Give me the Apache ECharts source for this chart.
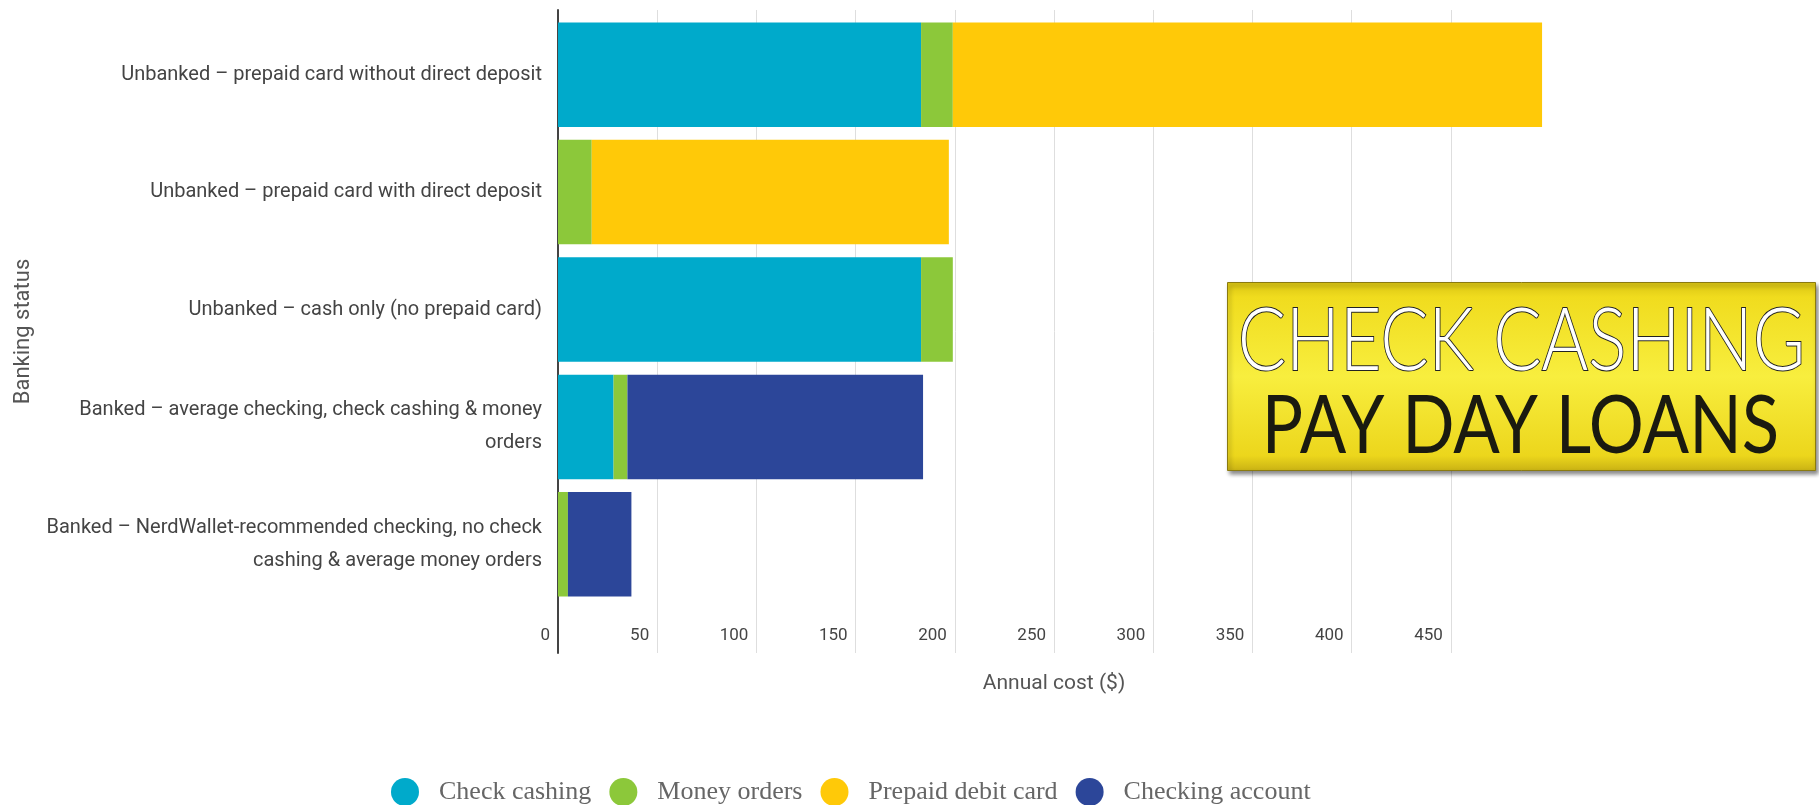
<!DOCTYPE html>
<html><head><meta charset="utf-8">
<script src="https://cdn.jsdelivr.net/npm/echarts@6/dist/echarts.min.js"></script>
<style>html,body{margin:0;padding:0;background:#fff}#c{width:1819px;height:805px}</style>
</head><body><div id="c"></div>
<script>
// ---- data ----
const categories = [
  'Unbanked – prepaid card without direct deposit',
  'Unbanked – prepaid card with direct deposit',
  'Unbanked – cash only (no prepaid card)',
  'Banked – average checking, check cashing & money\norders',
  'Banked – NerdWallet-recommended checking, no check\ncashing & average money orders'
];
const seriesNames = ['Check cashing', 'Money orders', 'Prepaid debit card', 'Checking account'];
const checkCashing    = [183, 0, 183, 28, 0];
const moneyOrders     = [16, 17, 16, 7, 5];
const prepaidCard     = [297, 180, 0, 0, 0];
const checkingAccount = [0, 0, 0, 149, 32];
const xMin = 0, xMax = 500, xStep = 50;
const axisTitleX = 'Annual cost ($)';
const axisTitleY = 'Banking status';
const bannerLine1 = 'CHECK CASHING';
const bannerLine2 = 'PAY DAY LOANS';

const colors = ['#00AACB', '#8CC83A', '#FFC908', '#2C4699'];
const values = [checkCashing, moneyOrders, prepaidCard, checkingAccount];

const chart = echarts.init(document.getElementById('c'), null, {renderer: 'canvas'});
const gridColors = [];
for (let v = xMin; v <= xMax; v += xStep) gridColors.push(v === xMax ? 'rgba(0,0,0,0)' : '#dedede');

const option = {
  animation: false,
  color: colors,
  grid: [
    {left: 558, right: 269, top: 16, bottom: 202},
    {left: 558, right: 269, top: 10, bottom: 152}
  ],
  xAxis: [
    {gridIndex: 0, type: 'value', min: xMin, max: xMax, interval: xStep, show: false},
    {gridIndex: 1, type: 'value', min: xMin, max: xMax, interval: xStep,
     axisLine: {show: false}, axisTick: {show: false},
     splitLine: {show: true, showMaxLine: false, lineStyle: {color: gridColors, width: 1}},
     axisLabel: {inside: true, align: 'right', padding: [0, 8, 0, 0], margin: 9, showMaxLabel: false,
                 fontFamily: 'Roboto', fontSize: 17, color: '#444'},
     name: axisTitleX, nameLocation: 'middle', nameGap: 20,
     nameTextStyle: {fontFamily: 'Roboto', fontSize: 21, color: '#555'}}
  ],
  yAxis: [
    {gridIndex: 0, type: 'category', data: categories, inverse: true,
     axisLine: {show: false}, axisTick: {show: false}, splitLine: {show: false},
     axisLabel: {margin: 16, fontFamily: 'Roboto', fontSize: 20, color: '#444', lineHeight: 33,
                 align: 'right', padding: [8, 0, 0, 0]}},
    {gridIndex: 1, type: 'value', min: 0, max: 1,
     axisLine: {show: true, lineStyle: {color: '#444', width: 2}},
     axisTick: {show: false}, axisLabel: {show: false}, splitLine: {show: false},
     name: axisTitleY, nameLocation: 'middle', nameRotate: 90, nameGap: 524,
     nameTextStyle: {fontFamily: 'Roboto', fontSize: 22, color: '#555'}}
  ],
  legend: {
    data: seriesNames, left: 386, top: 773, itemWidth: 28, itemHeight: 32, itemGap: 18,
    icon: 'path://M50,0A50,50 0 1 1 50,100A50,50 0 1 1 50,0Z',
    textStyle: {fontFamily: 'Liberation Serif', fontSize: 26, color: '#666', padding: [0, 0, 0, 15]}
  },
  series: seriesNames.map((n, i) => ({
    name: n, type: 'bar', stack: 'total', xAxisIndex: 0, yAxisIndex: 0,
    barCategoryGap: '11%', data: values[i], itemStyle: {color: colors[i]}
  })),
  graphic: [{
    type: 'group', left: 1227, top: 282, z: 100, children: [
      {type: 'rect', z: 100, shape: {x: 0, y: 0, width: 588, height: 188},
       style: {fill: new echarts.graphic.LinearGradient(0, 0, 0, 1, [
         {offset: 0, color: '#d9c414'}, {offset: 0.08, color: '#f0dc1e'},
         {offset: 0.5, color: '#f8ee3e'}, {offset: 0.92, color: '#ecd61c'}, {offset: 1, color: '#c9b214'}]),
         stroke: '#8a7a10', lineWidth: 1, shadowColor: 'rgba(0,0,0,0.45)', shadowBlur: 4, shadowOffsetX: 2, shadowOffsetY: 3}},
      {type: 'text', z: 101, x: 294, y: 60, scaleX: 0.83,
       style: {text: bannerLine1, font: '300 86px Lato', fill: '#ffffff', stroke: '#222', lineWidth: 2,
               textAlign: 'center', textVerticalAlign: 'middle'}},
      {type: 'text', z: 101, x: 293, y: 144, scaleX: 0.84,
       style: {text: bannerLine2, font: '400 82px Lato', fill: '#1a1a10',
               textAlign: 'center', textVerticalAlign: 'middle'}}
    ]
  }]
};
chart.setOption(option);
</script>
</body></html>
